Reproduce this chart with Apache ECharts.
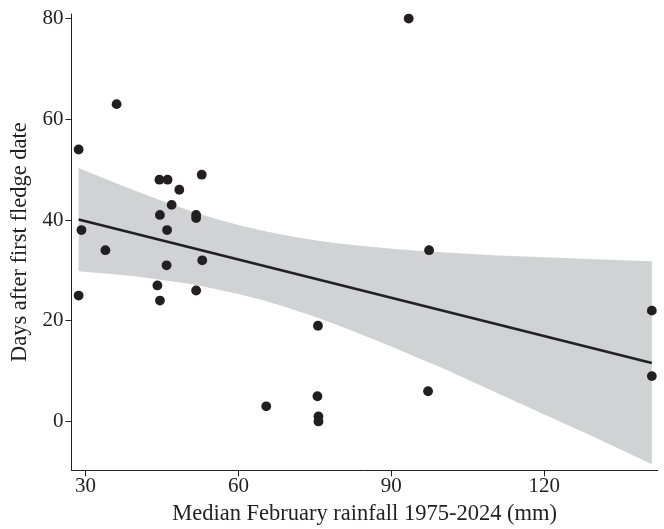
<!DOCTYPE html>
<html>
<head>
<meta charset="utf-8">
<script src="https://cdn.jsdelivr.net/npm/echarts@6/dist/echarts.min.js"></script>
<style>
html,body{margin:0;padding:0;background:#fff;}
#chart{width:664px;height:529px;}
</style>
</head>
<body>
<div id="chart"></div>
<script>
// Observed points
const rainfall = [28.65, 29.2, 28.65, 36.1, 33.9, 44.5, 46.1, 48.4, 52.8, 46.9, 44.6, 51.7, 51.7, 46.0, 45.9, 52.9, 44.1, 44.6, 51.7, 93.4, 97.4, 97.2, 75.6, 75.5, 75.7, 75.7, 65.45, 141.1, 141.1];
const days = [54, 38, 25, 63, 34, 48, 48, 46, 49, 43, 41, 41, 40.4, 38, 31, 32, 27, 24, 26, 80, 34, 6, 19, 5, 1, 0, 3, 22, 9];

// Fitted line (end points)
const fitX = [28.65, 141.1];
const fitY = [40.1, 11.6];

// Confidence band
const bandX = [28.65, 35, 40, 45, 50, 55, 60, 65, 70, 75, 80, 85, 90, 95, 100, 110, 120, 130, 141.1];
const bandUpper = [50.3, 47.7, 45.7, 43.8, 42.0, 40.4, 39.0, 37.8, 36.8, 36.0, 35.3, 34.8, 34.3, 33.9, 33.6, 33.0, 32.6, 32.2, 31.8];
const bandLower = [29.8, 29.3, 28.8, 28.1, 27.4, 26.4, 25.3, 24.0, 22.5, 20.8, 18.9, 16.9, 14.9, 12.7, 10.6, 6.0, 1.4, -3.2, -8.5];

// Axis ticks
const xTicks = [30, 60, 90, 120];
const yTicks = [0, 20, 40, 60, 80];

const xTitle = 'Median February rainfall 1975-2024 (mm)';
const yTitle = 'Days after first fledge date';

const ink = '#231f20';
const font = '"Liberation Serif", "Times New Roman", serif';

const chart = echarts.init(document.getElementById('chart'));

const bandData = [bandX.map((x, i) => [x, bandUpper[i], bandLower[i]])];

chart.setOption({
  backgroundColor: '#ffffff',
  animation: false,
  grid: {left: 71.5, right: 6.3, top: 14, bottom: 58.7, containLabel: false, outerBoundsMode: 'none'},
  xAxis: {
    type: 'value', min: 27.25, max: 142.25,
    name: xTitle, nameLocation: 'middle', nameGap: 32,
    nameTextStyle: {fontFamily: font, fontSize: 22.5, color: ink},
    axisLine: {show: true, onZero: false, lineStyle: {color: ink, width: 1}},
    axisTick: {show: true, inside: false, length: 6, customValues: xTicks, lineStyle: {color: ink, width: 1}},
    axisLabel: {customValues: xTicks, fontFamily: font, fontSize: 21, color: ink, margin: 6},
    splitLine: {show: false}
  },
  yAxis: {
    type: 'value', min: -9.7, max: 80.9,
    name: yTitle, nameLocation: 'middle', nameGap: 34, nameRotate: 90,
    nameTextStyle: {fontFamily: font, fontSize: 22.5, color: ink},
    axisLine: {show: true, onZero: false, lineStyle: {color: ink, width: 1}},
    axisTick: {show: true, inside: false, length: 6, customValues: yTicks, lineStyle: {color: ink, width: 1}},
    axisLabel: {customValues: yTicks, fontFamily: font, fontSize: 21, color: ink, margin: 8},
    splitLine: {show: false}
  },
  series: [
    {
      type: 'custom',
      data: bandData,
      z: 1,
      silent: true,
      renderItem: function (params, api) {
        const pts = [];
        for (let i = 0; i < bandX.length; i++) pts.push(api.coord([bandX[i], bandUpper[i]]));
        for (let i = bandX.length - 1; i >= 0; i--) pts.push(api.coord([bandX[i], bandLower[i]]));
        return {
          type: 'polygon',
          shape: {points: pts, smooth: 0},
          style: {fill: '#d1d2d4', stroke: null}
        };
      }
    },
    {
      type: 'line',
      data: fitX.map((x, i) => [x, fitY[i]]),
      showSymbol: false,
      z: 3,
      lineStyle: {color: ink, width: 2.7},
      silent: true
    },
    {
      type: 'scatter',
      data: rainfall.map((x, i) => [x, days[i]]),
      symbol: 'circle',
      symbolSize: 9.8,
      z: 4,
      itemStyle: {color: ink, opacity: 1},
      silent: true
    }
  ]
});
</script>
</body>
</html>
